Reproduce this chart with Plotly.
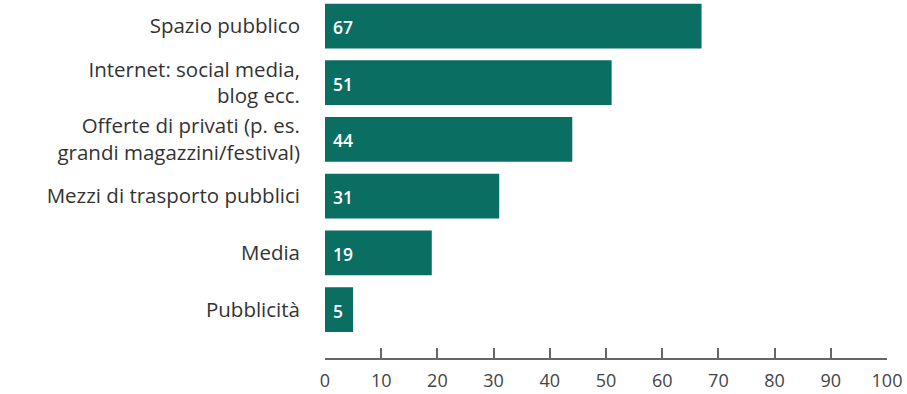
import plotly.graph_objects as go

categories = ["Spazio pubblico", "Internet: social media,<br>blog ecc.",
              "Offerte di privati (p. es.<br>grandi magazzini/festival)",
              "Mezzi di trasporto pubblici", "Media", "Pubblicità"]
values = [67, 51, 44, 31, 19, 5]
tick_vals = [0, 10, 20, 30, 40, 50, 60, 70, 80, 90, 100]

color = "#0b6e63"

fig = go.Figure(go.Bar(
    x=values, y=categories, orientation="h",
    marker=dict(color=color, line=dict(width=0)),
    hoverinfo="skip",
))

for c, v in zip(categories, values):
    fig.add_annotation(x=0, y=c, text=str(v), showarrow=False,
                       xanchor="left", xshift=6, yshift=-1,
                       font=dict(family="Open Sans", size=17.5, color="white", weight=600))

fig.update_layout(
    width=907, height=394,
    margin=dict(l=325, r=20, t=0, b=36),
    paper_bgcolor="white", plot_bgcolor="white",
    bargap=0.21, showlegend=False,
    font=dict(family="Open Sans", color="#333333"),
)
fig.update_xaxes(
    range=[0, 100], tickvals=tick_vals, ticks="inside", ticklen=10,
    tickcolor="#666666", tickwidth=1.5, showline=True, linecolor="#666666",
    linewidth=1.5, showgrid=False, zeroline=False, ticklabelstandoff=6,
    tickfont=dict(family="Open Sans", size=18, color="#444444"),
)
fig.update_yaxes(
    categoryorder="array", categoryarray=categories,
    range=[5.855, -0.459], showgrid=False, zeroline=False, showline=False,
    ticks="", ticklabelstandoff=24,
    tickfont=dict(family="Open Sans", size=20.5, color="#333333"),
)
fig.write_html("out.html")
